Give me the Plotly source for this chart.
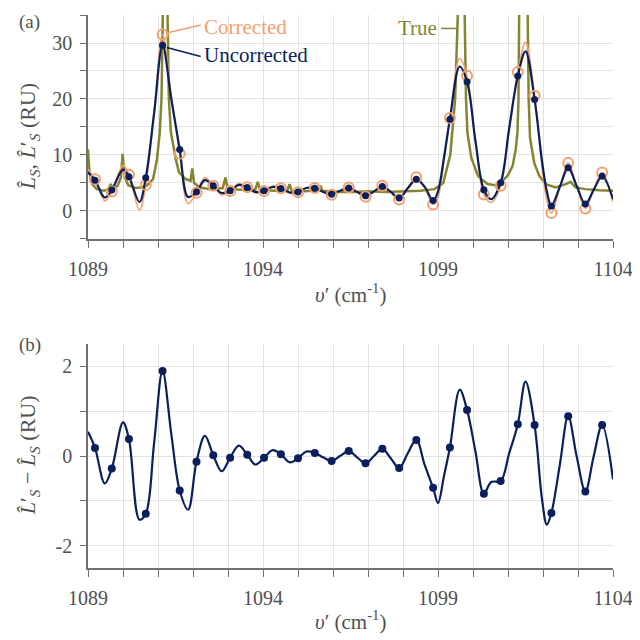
import plotly.graph_objects as go

# ---------------- data ----------------
# sample positions (cm-1) of the marked points
x_samples = [1089.20, 1089.68, 1090.17, 1090.65, 1091.13, 1091.62, 1092.10, 1092.58,
             1093.06, 1093.55, 1094.03, 1094.51, 1095.00, 1095.48, 1095.96, 1096.45,
             1096.93, 1097.41, 1097.89, 1098.38, 1098.86, 1099.34, 1099.83, 1100.31,
             1100.79, 1101.28, 1101.76, 1102.24, 1102.72, 1103.21, 1103.69]
unc_samples = [5.5, 3.75, 6.1, 5.95, 29.6, 11.0, 3.4, 4.5, 3.6, 4.2, 3.6, 4.0, 3.4, 4.05,
               3.0, 4.1, 2.7, 4.35, 2.3, 5.65, 1.85, 16.4, 23.1, 3.8, 5.05, 24.1, 19.9,
               0.9, 7.7, 1.25, 6.2]
cor_samples = [5.68, 3.47, 6.48, 4.66, 31.50, 10.23, 3.27, 4.52, 3.56, 4.23, 3.56, 4.04,
               3.35, 4.12, 2.89, 4.21, 2.54, 4.51, 2.03, 6.01, 1.14, 16.59, 24.13, 2.96,
               4.49, 24.81, 20.59, -0.37, 8.59, 0.46, 6.89]
diff_samples = [0.18, -0.28, 0.38, -1.29, 1.90, -0.77, -0.13, 0.02, -0.04, 0.03, -0.04,
                0.04, -0.05, 0.07, -0.11, 0.11, -0.16, 0.16, -0.27, 0.36, -0.71, 0.19,
                1.03, -0.84, -0.56, 0.71, 0.69, -1.27, 0.89, -0.79, 0.69]

# smooth interpolated curves, read at samples and in-between points
x_curve = [1089.00, 1089.20, 1089.48, 1089.68, 1090.00, 1090.17, 1090.47, 1090.65,
           1090.89, 1091.13, 1091.38, 1091.62, 1091.86, 1092.10, 1092.34, 1092.58,
           1092.82, 1093.06, 1093.31, 1093.55, 1093.78, 1094.03, 1094.28, 1094.51,
           1094.77, 1095.00, 1095.24, 1095.48, 1095.72, 1095.96, 1096.20, 1096.45,
           1096.69, 1096.93, 1097.17, 1097.41, 1097.65, 1097.89, 1098.13, 1098.38,
           1098.62, 1098.86, 1099.00, 1099.17, 1099.34, 1099.62, 1099.83, 1100.07,
           1100.31, 1100.52, 1100.79, 1101.03, 1101.28, 1101.50, 1101.76, 1101.97,
           1102.11, 1102.24, 1102.48, 1102.72, 1102.96, 1103.21, 1103.45, 1103.69,
           1104.00]
unc_curve = [6.9, 5.5, 2.4, 3.75, 7.4, 6.1, 1.6, 5.95,
             17.5, 29.6, 20.0, 11.0, 2.5, 3.4, 5.5, 4.5,
             3.2, 3.6, 4.65, 4.2, 3.4, 3.6, 4.3, 4.0,
             3.3, 3.4, 4.1, 4.05, 3.4, 3.0, 3.6, 4.1,
             3.4, 2.7, 3.5, 4.35, 3.4, 2.3, 4.0, 5.65,
             4.3, 1.85, 3.5, 9.5, 16.4, 25.8, 23.1, 12.5,
             3.8, 2.1, 5.05, 14.6, 24.1, 28.5, 19.9, 9.0,
             3.5, 0.9, 4.3, 7.7, 4.5, 1.25, 3.8, 6.2,
             2.1]
cor_curve = [7.44, 5.68, 1.79, 3.47, 8.15, 6.48, 0.18, 4.66,
             17.80, 31.50, 20.49, 10.23, 1.30, 3.27, 5.95, 4.52,
             2.86, 3.56, 4.88, 4.23, 3.21, 3.56, 4.43, 4.04,
             3.16, 3.35, 4.20, 4.12, 3.37, 2.89, 3.60, 4.21,
             3.37, 2.54, 3.50, 4.51, 3.35, 2.03, 4.05, 6.01,
             4.10, 1.14, 2.45, 9.05, 16.59, 27.28, 24.13, 12.60,
             2.96, 1.52, 4.49, 14.65, 24.81, 30.16, 20.59, 8.05,
             1.97, -0.37, 4.10, 8.59, 4.50, 0.46, 3.80, 6.89,
             1.58]
diff_curve = [0.54, 0.18, -0.61, -0.28, 0.75, 0.38, -1.42, -1.29,
              0.30, 1.90, 0.49, -0.77, -1.20, -0.13, 0.45, 0.02,
              -0.34, -0.04, 0.23, 0.03, -0.19, -0.04, 0.13, 0.04,
              -0.14, -0.05, 0.10, 0.07, -0.03, -0.11, 0.00, 0.11,
              -0.03, -0.16, 0.00, 0.16, -0.05, -0.27, 0.05, 0.36,
              -0.20, -0.71, -1.05, -0.45, 0.19, 1.48, 1.03, 0.10,
              -0.84, -0.58, -0.56, 0.05, 0.71, 1.66, 0.69, -0.95,
              -1.53, -1.27, -0.20, 0.89, 0.00, -0.79, 0.00, 0.69,
              -0.52]

# high-resolution "true" spectrum
true_x = [1089.00, 1089.04, 1089.12, 1089.25, 1089.45, 1089.58, 1089.65, 1089.72,
          1089.85, 1089.94, 1089.99, 1090.04, 1090.15, 1090.35, 1090.50, 1090.67,
          1090.86, 1090.97, 1091.05, 1091.10, 1091.14, 1091.27, 1091.31, 1091.37,
          1091.51, 1091.60, 1091.79, 1091.93, 1091.98, 1092.03, 1092.20, 1092.50,
          1092.85, 1092.93, 1092.98, 1093.30, 1093.78, 1093.85, 1093.91, 1094.30,
          1094.70, 1094.76, 1094.82, 1095.20, 1095.58, 1095.64, 1095.70, 1096.20,
          1096.60, 1097.00, 1097.50, 1098.00, 1098.50, 1098.90, 1099.15, 1099.35,
          1099.43, 1099.49, 1099.57, 1099.76, 1099.80, 1099.84, 1099.95, 1100.14,
          1100.23, 1100.42, 1100.70, 1100.85, 1100.99, 1101.13, 1101.22, 1101.27,
          1101.30, 1101.32, 1101.56, 1101.59, 1101.63, 1101.75, 1101.89, 1102.08,
          1102.36, 1102.65, 1102.79, 1102.93, 1103.21, 1103.60, 1104.00]
true_y = [11.0, 7.0, 4.8, 3.9, 3.6, 3.9, 4.8, 4.0,
          4.5, 6.0, 10.2, 6.2, 4.6, 4.1, 4.2, 4.5,
          5.7, 9.2, 14.0, 20.0, 36.0, 36.0, 20.0, 14.0,
          9.2, 6.9, 5.7, 5.4, 7.6, 5.0, 4.2, 3.9,
          4.1, 6.0, 4.2, 3.8, 3.8, 5.2, 3.8, 3.6,
          3.7, 4.8, 3.6, 3.5, 3.7, 4.5, 3.6, 3.4,
          3.4, 3.5, 3.4, 3.5, 3.6, 3.9, 5.0, 10.0,
          16.4, 20.0, 36.0, 36.0, 20.0, 14.0, 9.5, 6.3,
          5.7, 4.8, 4.5, 5.4, 6.3, 8.0, 11.0, 14.0,
          20.0, 36.0, 36.0, 20.0, 13.0, 8.6, 6.3, 4.8,
          4.2, 4.8, 5.2, 4.2, 3.9, 3.7, 3.6]

# tick labels
x_tickvals = [1089, 1094, 1099, 1104]
x_ticktext = ["1089", "1094", "1099", "1104"]
ya_tickvals = [0, 10, 20, 30]
ya_ticktext = ["0", "10", "20", "30"]
yb_tickvals = [-2, 0, 2]
yb_ticktext = ["-2", "0", "2"]

# ---------------- styling ----------------
NAVY = "#0b1f5c"
ORANGE = "#f2a06e"
OLIVE = "#84862f"
TXT = "#505050"
AXC = "#707070"
GRID = "#e2e2e2"
FONT = "Liberation Serif"

fig = go.Figure()
# panel (a)
fig.add_trace(go.Scatter(x=true_x, y=true_y, mode="lines",
                         line=dict(color=OLIVE, width=2.5), xaxis="x", yaxis="y"))
fig.add_trace(go.Scatter(x=x_curve, y=cor_curve, mode="lines",
                         line=dict(color=ORANGE, width=1.6, shape="spline"), xaxis="x", yaxis="y"))
fig.add_trace(go.Scatter(x=x_curve, y=unc_curve, mode="lines",
                         line=dict(color=NAVY, width=2.2, shape="spline"), xaxis="x", yaxis="y"))
fig.add_trace(go.Scatter(x=x_samples, y=cor_samples, mode="markers",
                         marker=dict(symbol="circle-open", size=10, color=ORANGE, line=dict(width=2)),
                         xaxis="x", yaxis="y"))
fig.add_trace(go.Scatter(x=x_samples, y=unc_samples, mode="markers",
                         marker=dict(size=7, color=NAVY), xaxis="x", yaxis="y"))
# panel (b)
fig.add_trace(go.Scatter(x=x_curve, y=diff_curve, mode="lines",
                         line=dict(color=NAVY, width=2.2, shape="spline"), xaxis="x2", yaxis="y2"))
fig.add_trace(go.Scatter(x=x_samples, y=diff_samples, mode="markers",
                         marker=dict(size=8, color=NAVY), xaxis="x2", yaxis="y2"))

tickfont = dict(family=FONT, size=20, color=TXT)


def xax(anchor):
    return dict(domain=[0, 1], anchor=anchor, range=[1089, 1104],
                tickmode="array", tickvals=x_tickvals, ticktext=x_ticktext,
                ticks="outside", ticklen=7, tickcolor=AXC, tickwidth=1,
                showline=True, linecolor=AXC, linewidth=1.5,
                showgrid=True, gridcolor=GRID, gridwidth=1, zeroline=False,
                minor=dict(tick0=1089, dtick=1, ticks="outside", ticklen=7, tickcolor=AXC,
                           showgrid=True, gridcolor=GRID, gridwidth=1),
                tickfont=tickfont, ticklabelstandoff=4)


def yax(anchor, domain, rng, tv, tt, mdtick):
    return dict(domain=domain, anchor=anchor, range=rng,
                tickmode="array", tickvals=tv, ticktext=tt,
                ticks="outside", ticklen=6, tickcolor=AXC, tickwidth=1,
                showline=True, linecolor=AXC, linewidth=1.5,
                showgrid=True, gridcolor=GRID, gridwidth=1, zeroline=False,
                minor=dict(tick0=0, dtick=mdtick, ticks="outside", ticklen=6, tickcolor=AXC,
                           showgrid=True, gridcolor=GRID, gridwidth=1),
                tickfont=tickfont, ticklabelstandoff=4)


# the page adds an 8px body margin, so the figure is 632 px and margins are shifted
fig.update_layout(
    width=632, height=632,
    margin=dict(l=80, r=24, t=7, b=72),
    paper_bgcolor="white", plot_bgcolor="white",
    showlegend=False,
    font=dict(family=FONT, color=TXT, size=20),
    xaxis=xax("y"),
    yaxis=yax("x", [0.595, 1.0], [-5, 35], ya_tickvals, ya_ticktext, 5),
    xaxis2=xax("y2"),
    yaxis2=yax("x2", [0.0, 0.405], [-2.5, 2.5], yb_tickvals, yb_ticktext, 1),
)

# leader lines for the inline labels
fig.add_shape(type="line", xref="x", yref="y", x0=1091.25, y0=31.8, x1=1092.22, y1=33.2,
              line=dict(color=ORANGE, width=1.5))
fig.add_shape(type="line", xref="x", yref="y", x0=1091.25, y0=29.2, x1=1092.22, y1=27.6,
              line=dict(color=NAVY, width=1.5))
fig.add_shape(type="line", xref="x", yref="y", x0=1099.09, y0=32.6, x1=1099.57, y1=32.6,
              line=dict(color=OLIVE, width=1.5))

ann = []
ann.append(dict(x=1092.27, y=32.8, xref="x", yref="y", text="Corrected", showarrow=False,
                xanchor="left", yanchor="middle", font=dict(family=FONT, size=21, color=ORANGE)))
ann.append(dict(x=1092.27, y=27.8, xref="x", yref="y", text="Uncorrected", showarrow=False,
                xanchor="left", yanchor="middle", font=dict(family=FONT, size=21, color=NAVY)))
ann.append(dict(x=1099.02, y=32.6, xref="x", yref="y", text="True", showarrow=False,
                xanchor="right", yanchor="middle", font=dict(family=FONT, size=21, color=OLIVE)))


def px_x(p):
    return (p - 88) / 528.0


def px_y(p):
    return (568 - p) / 553.0


ann.append(dict(x=px_x(29), y=px_y(9), xref="paper", yref="paper", text="(a)", showarrow=False,
                xanchor="center", yanchor="top", font=dict(family=FONT, size=19, color=TXT)))
ann.append(dict(x=px_x(30), y=px_y(345), xref="paper", yref="paper", text="(b)", showarrow=False,
                xanchor="center", yanchor="middle", font=dict(family=FONT, size=19, color=TXT)))
ann.append(dict(x=px_x(352), y=px_y(293), xref="paper", yref="paper",
                text="<i>υ</i>′ (cm<sup>-1</sup>)", showarrow=False,
                xanchor="center", yanchor="middle", font=dict(family=FONT, size=21, color=TXT)))
ann.append(dict(x=px_x(352), y=px_y(620), xref="paper", yref="paper",
                text="<i>υ</i>′ (cm<sup>-1</sup>)", showarrow=False,
                xanchor="center", yanchor="middle", font=dict(family=FONT, size=21, color=TXT)))
ann.append(dict(x=px_x(29), y=px_y(137), xref="paper", yref="paper", textangle=-90,
                text="<i>L̂</i><sub><i>S</i></sub>, <i>L̂</i>′<sub><i>S</i></sub> (RU)", showarrow=False,
                xanchor="center", yanchor="middle", font=dict(family=FONT, size=22, color=TXT)))
ann.append(dict(x=px_x(29), y=px_y(455), xref="paper", yref="paper", textangle=-90,
                text="<i>L̂</i>′<sub><i>S</i></sub> − <i>L̂</i><sub><i>S</i></sub> (RU)", showarrow=False,
                xanchor="center", yanchor="middle", font=dict(family=FONT, size=22, color=TXT)))
fig.update_layout(annotations=ann)

fig.write_html("out.html")
